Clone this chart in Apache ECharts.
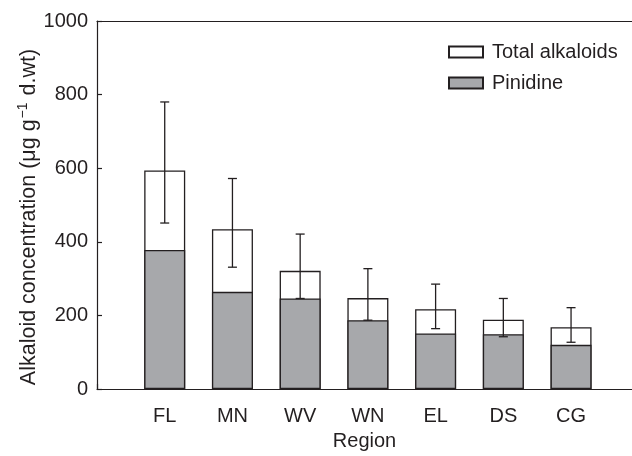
<!DOCTYPE html>
<html>
<head>
<meta charset="utf-8">
<script src="https://cdn.jsdelivr.net/npm/echarts@6/dist/echarts.min.js"></script>
<style>
html,body{margin:0;padding:0;background:#fff;}
#chart{width:632px;height:456px;}
</style>
</head>
<body>
<div id="chart"></div>
<script>
const categories = ['FL', 'MN', 'WV', 'WN', 'EL', 'DS', 'CG'];
const totalAlkaloids = [594, 434, 321, 247, 217, 188, 168];
const pinidine = [378, 264, 246, 187, 151, 149, 120];
const errHigh = [780, 572, 421, 327, 285, 246, 221];
const errLow = [451, 331, 246, 187, 164, 142, 127];
const yTicks = [0, 200, 400, 600, 800, 1000];

const FONT = '"Liberation Sans", Arial, sans-serif';
const INK = '#231f20';
const GRAY = '#a7a8ab';

const totalData = categories.map((c, i) => [i + 1, totalAlkaloids[i]]);
const pinData = categories.map((c, i) => [i + 1, pinidine[i]]);
const errData = categories.map((c, i) => [i + 1, errLow[i], errHigh[i]]);

const chart = echarts.init(document.getElementById('chart'));
chart.setOption({
  animation: false,
  backgroundColor: '#fff',
  textStyle: { fontFamily: FONT },
  grid: { left: 97, top: 21, bottom: 56, right: 0 },
  legend: {
    orient: 'vertical',
    left: 443, top: 37,
    itemWidth: 34, itemHeight: 11, itemGap: 11,
    icon: 'rect',
    textStyle: { fontFamily: FONT, fontSize: 20, color: INK, padding: [0, 0, 0, 4] },
    data: ['Total alkaloids', 'Pinidine']
  },
  xAxis: [{
    type: 'value',
    min: 0, max: 7.9, interval: 1,
    name: 'Region',
    nameLocation: 'middle',
    nameGap: 42,
    nameTextStyle: { fontFamily: FONT, fontSize: 20, color: INK },
    axisLine: { show: true, lineStyle: { color: INK, width: 1.2 } },
    axisTick: { show: true, inside: true, length: 5, lineStyle: { color: INK, width: 1.2 } },
    axisLabel: { fontFamily: FONT, fontSize: 20, color: INK, margin: 17,
      showMaxLabel: false,
      formatter: v => categories[Math.round(v) - 1] || '' },
    splitLine: { show: false }
  }, {
    type: 'value',
    position: 'top',
    min: 0, max: 7.9,
    axisLine: { show: true, lineStyle: { color: INK, width: 1.2 } },
    axisTick: { show: false },
    axisLabel: { show: false },
    splitLine: { show: false }
  }],
  yAxis: {
    type: 'value',
    min: 0, max: 1000, interval: 200,
    axisLine: { show: true, lineStyle: { color: INK, width: 1.2 } },
    axisTick: { show: true, inside: true, length: 5, lineStyle: { color: INK, width: 1.2 } },
    axisLabel: { fontFamily: FONT, fontSize: 20, color: INK, margin: 9,
      formatter: v => yTicks.indexOf(v) >= 0 ? String(v) : '' },
    splitLine: { show: false }
  },
  graphic: [{
    type: 'text',
    x: 28, y: 217,
    rotation: Math.PI / 2,
    style: {
      text: '{a|Alkaloid concentration (μg g}{s|−1}{a| d.wt)}',
      align: 'center',
      verticalAlign: 'middle',
      fill: INK,
      rich: {
        a: { fontFamily: FONT, fontSize: 21.5, fill: INK, lineHeight: 24, verticalAlign: 'bottom' },
        s: { fontFamily: FONT, fontSize: 14, fill: INK, lineHeight: 24, verticalAlign: 'top', padding: [0, 1, 10, 1] }
      }
    }
  }],
  series: [
    {
      name: 'Total alkaloids',
      type: 'bar',
      data: totalData,
      barWidth: 41,
      barGap: '-100%',
      itemStyle: { color: '#ffffff', borderColor: INK, borderWidth: 1.3 },
      z: 2
    },
    {
      name: 'Pinidine',
      type: 'bar',
      data: pinData,
      barWidth: 41,
      barGap: '-100%',
      itemStyle: { color: GRAY, borderColor: INK, borderWidth: 1.3 },
      z: 3
    },
    {
      name: 'error',
      type: 'custom',
      data: errData,
      z: 5,
      renderItem: function (params, api) {
        const x = api.value(0);
        const lo = api.coord([x, api.value(1)]);
        const hi = api.coord([x, api.value(2)]);
        const hw = 4.5;
        const st = { stroke: INK, lineWidth: 1.3, fill: null };
        return {
          type: 'group',
          children: [
            { type: 'line', shape: { x1: hi[0], y1: hi[1], x2: lo[0], y2: lo[1] }, style: st },
            { type: 'line', shape: { x1: hi[0] - hw, y1: hi[1], x2: hi[0] + hw, y2: hi[1] }, style: st },
            { type: 'line', shape: { x1: lo[0] - hw, y1: lo[1], x2: lo[0] + hw, y2: lo[1] }, style: st }
          ]
        };
      }
    }
  ]
});
</script>
</body>
</html>
